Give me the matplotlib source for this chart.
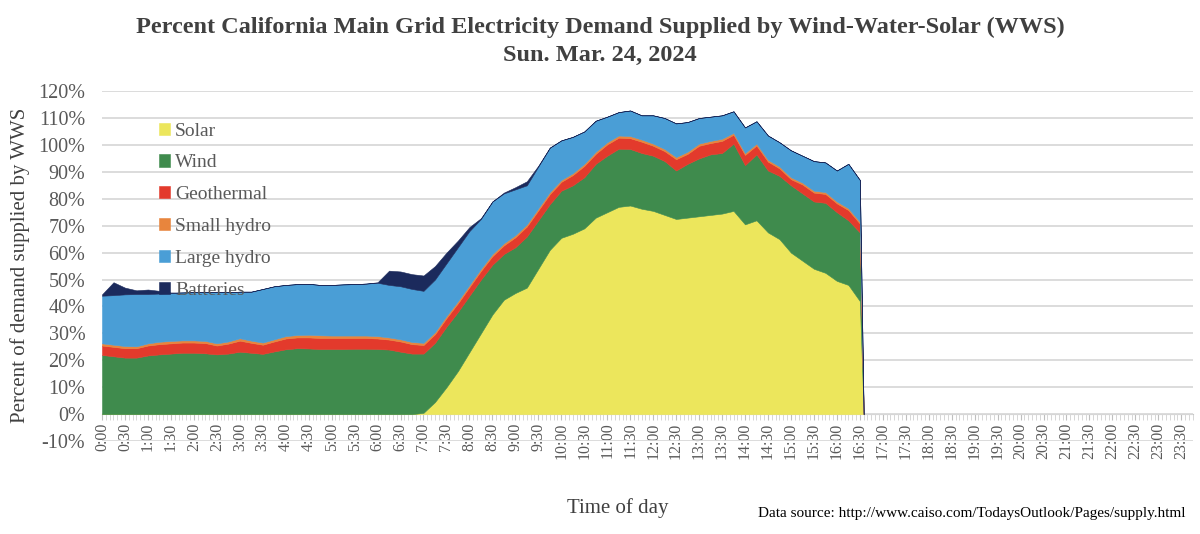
import matplotlib
matplotlib.use('Agg')
import matplotlib.pyplot as plt
from matplotlib.ticker import MultipleLocator

plt.rcParams['font.family'] = ['Liberation Serif', 'DejaVu Serif']

# time of day in minutes, 15-min steps to 16:30, then the data stops
minutes = list(range(0, 991, 15)) + [995]

# percent of demand by source (stacked bottom to top)
solar = [0, 0, 0, 0, 0, 0, 0, 0, 0, 0,
         0, 0, 0, 0, 0, 0, 0, 0, 0, 0,
         0, 0, 0, 0, 0, 0, 0, 0, 0.5, 4.5,
         10, 16, 23, 30, 37, 42.5, 45, 47, 54, 61,
         65.5, 67, 69, 73, 75, 77, 77.5, 76.3, 75.5, 74,
         72.5, 73, 73.5, 74, 74.5, 75.5, 70.5, 72, 67.5, 65,
         60, 57, 54, 52.5, 49.5, 48, 42, 0]
wind = [22, 21.5, 21, 21, 21.8, 22.2, 22.5, 22.8, 22.8, 22.6,
        22.2, 22.5, 23.2, 22.8, 22.4, 23.3, 24.1, 24.5, 24.4, 24.2,
        24.2, 24.2, 24.3, 24.3, 24.2, 24, 23.2, 22.5, 22, 22,
        22.5, 22, 21, 20, 18.5, 17, 17, 19, 18, 17,
        17.5, 18, 19, 20, 21, 21.6, 21, 20.7, 20.5, 20,
        18, 20, 21.5, 22.5, 22.5, 25, 22, 24.5, 23, 23.5,
        25, 25, 25, 26, 25.5, 24, 25.5, 0]
geothermal = [3.5, 3.5, 3.5, 3.5, 3.7, 3.8, 3.8, 3.8, 3.8, 3.8,
              3.3, 3.7, 4.1, 3.7, 3.4, 3.7, 4.0, 4.0, 4.1, 4.1,
              4.1, 4.1, 4.0, 4.0, 3.9, 3.7, 3.8, 3.5, 3.2, 3.2,
              3.2, 3.2, 3.2, 3.2, 3.2, 3.2, 3.7, 3.7, 3.7, 3.7,
              3.3, 3.8, 4.2, 3.7, 4.2, 4.1, 4.0, 4.2, 3.7, 3.7,
              4.2, 3.7, 4.7, 4.2, 4.5, 3.3, 3.8, 3.3, 3.3, 2.8,
              2.3, 3.3, 3.3, 3.3, 3.3, 3.8, 3.3, 0]
small_hydro = [0.8, 0.8, 0.8, 0.7, 0.8, 0.9, 0.9, 0.8, 0.8, 0.8,
               0.8, 0.8, 0.9, 0.8, 0.8, 0.8, 0.9, 0.9, 1.0, 1.0,
               0.9, 0.9, 0.9, 0.9, 0.9, 0.8, 0.8, 0.8, 0.8, 0.8,
               0.8, 0.8, 0.8, 0.8, 0.8, 0.8, 0.8, 0.8, 0.8, 0.8,
               0.7, 0.7, 0.8, 0.8, 0.8, 0.8, 0.8, 0.8, 0.8, 0.8,
               0.8, 0.8, 0.8, 0.8, 0.8, 0.7, 0.7, 0.7, 0.7, 0.7,
               0.7, 0.7, 0.7, 0.7, 0.7, 0.7, 0.7, 0]
large_hydro = [17.7, 18.4, 19.2, 19.4, 18.3, 17.9, 17.8, 17.8, 17.9, 18.1,
               19.0, 18.3, 17.3, 18.2, 19.9, 19.7, 19.0, 18.9, 18.9, 18.7,
               18.8, 19.0, 19.1, 19.3, 19.8, 19.5, 19.7, 19.7, 19.3, 19.5,
               19.5, 20.0, 20.0, 18.5, 19.5, 18.5, 17.0, 14.5, 15.5, 16.5,
               14.7, 13.5, 12.0, 11.5, 9.5, 8.7, 9.5, 9.0, 10.5, 11.5,
               12.5, 11.0, 9.5, 9.0, 8.7, 8.0, 9.5, 8.3, 9.0, 9.0,
               10.0, 10.0, 11.0, 11.0, 11.5, 16.5, 15.5, 0]
batteries = [0.5, 4.8, 2.5, 1.4, 1.7, 1.0, 0.2, 0, 0, 0,
             0, 0, 0, 0, 0, 0, 0, 0, 0, 0,
             0, 0, 0, 0, 0.2, 5.3, 5.5, 5.5, 5.7, 5.0,
             4.0, 2.5, 1.5, 0.3, 0, 0.3, 0.8, 1.5, 0.3, 0,
             0, 0, 0, 0, 0, 0, 0, 0, 0, 0,
             0, 0, 0, 0, 0, 0, 0, 0, 0, 0,
             0, 0, 0, 0, 0, 0, 0, 0]

names = ['Solar', 'Wind', 'Geothermal', 'Small hydro', 'Large hydro', 'Batteries']
colors = ['#ECE65C', '#3F8B4D', '#E33A2C', '#E8853D', '#4A9ED6', '#1B2A5C']

fig = plt.figure(figsize=(12, 5.34), dpi=100)
ax = fig.add_axes([0.085, 0.174, 0.909, 0.6554])

ax.stackplot(minutes, solar, wind, geothermal, small_hydro, large_hydro, batteries,
             colors=colors, labels=names, linewidth=0.4, edgecolor='face')

ax.set_xlim(0, 1425)
ax.set_ylim(-10, 120)
ax.set_yticks(range(-10, 121, 10))
ax.set_yticklabels([f'{v}%' for v in range(-10, 121, 10)])
ax.yaxis.grid(True, color='#D9D9D9', linewidth=1.3)
ax.set_axisbelow(True)

ax.set_xticks(range(0, 1411, 30))
ax.set_xticklabels([f'{m // 60}:{m % 60:02d}' for m in range(0, 1411, 30)])
ax.xaxis.set_minor_locator(MultipleLocator(5))

for s in ['top', 'right', 'left']:
    ax.spines[s].set_visible(False)
ax.spines['bottom'].set_position(('data', 0))
ax.spines['bottom'].set_color('#BFBFBF')
ax.spines['bottom'].set_zorder(0.5)

ax.tick_params(axis='y', length=0, pad=12, labelsize=14.5, labelcolor='#595959')
ax.tick_params(axis='x', which='major', length=4, color='#BFBFBF', pad=2,
               labelsize=11.5, labelcolor='#595959', labelrotation=90)
ax.tick_params(axis='x', which='minor', length=4, color='#D0D0D0')

leg = ax.legend(loc='upper left', bbox_to_anchor=(141 / 1200, 1 - 105 / 534),
                bbox_transform=fig.transFigure, frameon=False, fontsize=14,
                handlelength=0.6, handleheight=0.6, handletextpad=0.25, labelspacing=0.76)
for t in leg.get_texts():
    t.set_color('#595959')

fig.text(0.5, 1 - 27 / 534, 'Percent California Main Grid Electricity Demand Supplied by Wind-Water-Solar (WWS)',
         ha='center', va='center', fontsize=17.5, fontweight='bold', color='#404040')
fig.text(0.5, 1 - 55 / 534, 'Sun. Mar. 24, 2024',
         ha='center', va='center', fontsize=17.5, fontweight='bold', color='#404040')

fig.text(20 / 1200, 1 - 265 / 534, 'Percent of demand supplied by WWS', rotation=90,
         ha='center', va='center', fontsize=15, color='#404040')
fig.text(618 / 1200, 1 - 508 / 534, 'Time of day', ha='center', va='center',
         fontsize=15, color='#404040')
fig.text(1186 / 1200, 1 - 513 / 534, 'Data source: http://www.caiso.com/TodaysOutlook/Pages/supply.html',
         ha='right', va='center', fontsize=11, color='black')

fig.savefig('out.png', dpi=100)
